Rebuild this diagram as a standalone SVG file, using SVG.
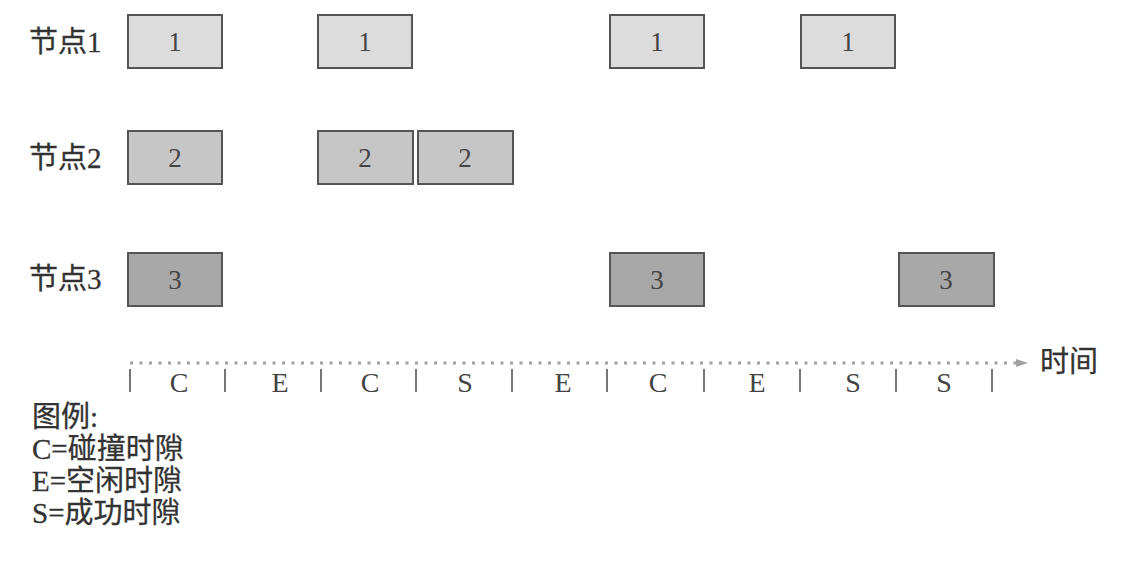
<svg xmlns="http://www.w3.org/2000/svg" width="1132" height="572" viewBox="0 0 1132 572">
<style>
.lbl{font-family:"Liberation Serif","Noto Sans CJK SC",serif;font-size:29px;fill:#333;stroke:#333;stroke-width:0.3}
.num{font-family:"Liberation Serif",serif;font-size:27px;fill:#444;text-anchor:middle}
.slot{font-family:"Liberation Serif",serif;font-size:28px;fill:#444;text-anchor:middle}
.b1{fill:#dcdcdc;stroke:#555;stroke-width:2}
.b2{fill:#c6c6c6;stroke:#555;stroke-width:2}
.b3{fill:#a8a8a8;stroke:#555;stroke-width:2}
.tick{stroke:#555;stroke-width:1.6}
</style>
<defs>
<marker id="arr" markerWidth="12" markerHeight="10" refX="0" refY="5" orient="auto" markerUnits="userSpaceOnUse">
<path d="M0,1 L12,5 L0,9 Z" fill="#a0a0a0"/>
</marker>
</defs>
<rect width="1132" height="572" fill="#fff"/>
<g id="labels">
<text class="lbl" x="29" y="52">节点1</text>
<text class="lbl" x="29" y="168">节点2</text>
<text class="lbl" x="29" y="289">节点3</text>
</g>
<g id="node1">
<rect class="b1" x="128" y="15" width="94" height="53"/><text class="num" x="175" y="51">1</text>
<rect class="b1" x="318" y="15" width="94" height="53"/><text class="num" x="365" y="51">1</text>
<rect class="b1" x="610" y="15" width="94" height="53"/><text class="num" x="657" y="51">1</text>
<rect class="b1" x="801" y="15" width="94" height="53"/><text class="num" x="848" y="51">1</text>
</g>
<g id="node2">
<rect class="b2" x="128" y="131" width="94" height="53"/><text class="num" x="175" y="167">2</text>
<rect class="b2" x="318" y="131" width="95" height="53"/><text class="num" x="365" y="167">2</text>
<rect class="b2" x="418" y="131" width="95" height="53"/><text class="num" x="465" y="167">2</text>
</g>
<g id="node3">
<rect class="b3" x="128" y="253" width="94" height="53"/><text class="num" x="175" y="289">3</text>
<rect class="b3" x="610" y="253" width="94" height="53"/><text class="num" x="657" y="289">3</text>
<rect class="b3" x="899" y="253" width="95" height="53"/><text class="num" x="946" y="289">3</text>
</g>
<g id="connectors">
<line x1="130" y1="363" x2="1016" y2="363" stroke="#a0a0a0" stroke-width="3" stroke-dasharray="3 6.5" marker-end="url(#arr)"/>
</g>
<g id="axis">
<text class="lbl" x="1040" y="372">时间</text>
<g>
<line class="tick" x1="130" y1="369" x2="130" y2="392"/>
<line class="tick" x1="225" y1="369" x2="225" y2="392"/>
<line class="tick" x1="321" y1="369" x2="321" y2="392"/>
<line class="tick" x1="416" y1="369" x2="416" y2="392"/>
<line class="tick" x1="512" y1="369" x2="512" y2="392"/>
<line class="tick" x1="607" y1="369" x2="607" y2="392"/>
<line class="tick" x1="704" y1="369" x2="704" y2="392"/>
<line class="tick" x1="800" y1="369" x2="800" y2="392"/>
<line class="tick" x1="896" y1="369" x2="896" y2="392"/>
<line class="tick" x1="992" y1="369" x2="992" y2="392"/>
</g>
<text class="slot" x="179" y="392">C</text>
<text class="slot" x="280" y="392">E</text>
<text class="slot" x="370" y="392">C</text>
<text class="slot" x="465" y="392">S</text>
<text class="slot" x="563" y="392">E</text>
<text class="slot" x="658" y="392">C</text>
<text class="slot" x="757" y="392">E</text>
<text class="slot" x="853" y="392">S</text>
<text class="slot" x="944" y="392">S</text>
</g>
<g id="legend">
<text class="lbl" x="32" y="427">图例:</text>
<text class="lbl" x="32" y="459">C=碰撞时隙</text>
<text class="lbl" x="32" y="491">E=空闲时隙</text>
<text class="lbl" x="32" y="523">S=成功时隙</text>
</g>
</svg>
